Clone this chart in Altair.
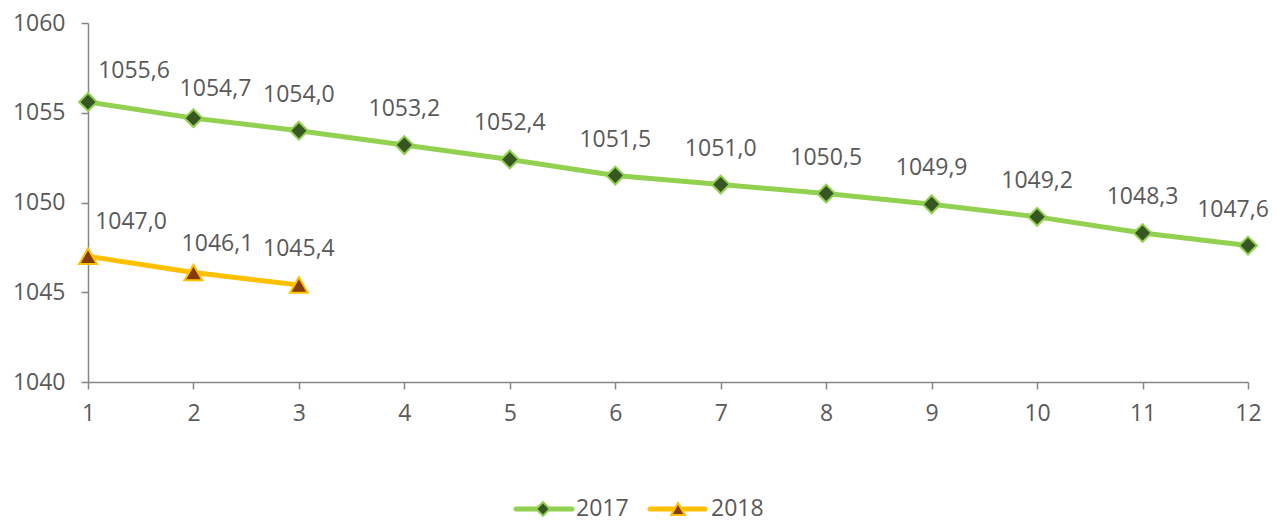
import altair as alt
import pandas as pd

# ---- data ----
months_2017 = list(range(1, 13))
values_2017 = [1055.6, 1054.7, 1054.0, 1053.2, 1052.4, 1051.5,
               1051.0, 1050.5, 1049.9, 1049.2, 1048.3, 1047.6]
months_2018 = [1, 2, 3]
values_2018 = [1047.0, 1046.1, 1045.4]
series = ["2017", "2018"]
x_ticks = list(range(1, 13))
y_ticks = [1040, 1045, 1050, 1055, 1060]

# ---- styles ----
line_colors = ["#92D050", "#FFC000"]
marker_fills = ["#375623", "#843C0C"]
shapes = ["diamond", "triangle-up"]
FONT = "Open Sans"
TEXT_COLOR = "#595959"
AXIS_COLOR = "#868686"
FS = 23

df = pd.concat([
    pd.DataFrame({"month": months_2017, "value": values_2017, "series": "2017"}),
    pd.DataFrame({"month": months_2018, "value": values_2018, "series": "2018"}),
], ignore_index=True)

x_enc = alt.X("month:Q",
              scale=alt.Scale(domain=[1, 12], nice=False, zero=False),
              axis=alt.Axis(values=x_ticks, title=None, format="d",
                            labelPadding=13, labelFlush=False))
y_enc = alt.Y("value:Q",
              scale=alt.Scale(domain=[1040, 1060], nice=False, zero=False),
              axis=alt.Axis(values=y_ticks, title=None, format="d",
                            labelPadding=16, labelFlush=False))

color_scale = alt.Scale(domain=series, range=line_colors)

base = alt.Chart(df).encode(x=x_enc, y=y_enc)

lines = base.mark_line(strokeWidth=5).encode(
    color=alt.Color("series:N", scale=color_scale, legend=None),
    detail="series:N",
)

points = base.mark_point(filled=True, size=320, strokeWidth=2, opacity=1).encode(
    shape=alt.Shape("series:N", scale=alt.Scale(domain=series, range=shapes), legend=None),
    fill=alt.Fill("series:N", scale=alt.Scale(domain=series, range=marker_fills), legend=None),
    stroke=alt.Stroke("series:N", scale=color_scale, legend=None),
)

# label placement tweaks (pixel offsets) for specific points
label_offsets = {
    ("2017", 1): (46, -31),
    ("2017", 2): (22, -29),
    ("2017", 12): (-15, -36),
    ("2018", 1): (43, -34),
    ("2018", 2): (24, -29),
}
default_offset = (0, -36)

label_base = base.transform_calculate(
    label="replace(format(datum.value, '.1f'), '.', ',')",
    key="datum.series + '_' + datum.month",
)

special_keys = [f"{s}_{m}" for (s, m) in label_offsets]
text_layers = [
    label_base.transform_filter(f"indexof({special_keys}, datum.key) < 0")
    .mark_text(font=FONT, fontSize=FS, color=TEXT_COLOR,
               dx=default_offset[0], dy=default_offset[1]).encode(text="label:N")
]
for (s, m), (dx, dy) in label_offsets.items():
    text_layers.append(
        label_base.transform_filter(f"datum.key == '{s}_{m}'")
        .mark_text(font=FONT, fontSize=FS, color=TEXT_COLOR, dx=dx, dy=dy)
        .encode(text="label:N")
    )

# ---- manual legend (line + marker + text) ----
one = alt.Chart(alt.Data(values=[{"a": 1}]))
legend_layers = []
legend_y = 486
legend_x = [(428, 484, 455, 488), (562, 617, 590, 623)]
for i, s in enumerate(series):
    x1, x2, xm, xt = legend_x[i]
    legend_layers.append(one.mark_rule(strokeWidth=5, color=line_colors[i], strokeCap="round").encode(
        x=alt.value(x1), x2=alt.value(x2), y=alt.value(legend_y)))
    legend_layers.append(one.mark_point(filled=True, size=190, strokeWidth=2, shape=shapes[i],
                                        fill=marker_fills[i], stroke=line_colors[i], opacity=1).encode(
        x=alt.value(xm), y=alt.value(legend_y)))
    legend_layers.append(one.mark_text(font=FONT, fontSize=FS, color=TEXT_COLOR, align="left",
                                       baseline="middle").encode(
        x=alt.value(xt), y=alt.value(legend_y), text=alt.value(s)))

chart = alt.layer(lines, points, *text_layers, *legend_layers).properties(
    width=1160, height=359,
    autosize=alt.AutoSizeParams(type="none"),
    padding={"left": 80, "top": 15, "right": 27, "bottom": 141},
).configure_view(stroke=None).configure_axis(
    grid=False,
    domainColor=AXIS_COLOR, domainWidth=1.5,
    tickColor=AXIS_COLOR, tickWidth=1.5, tickSize=7,
    labelColor=TEXT_COLOR, labelFont=FONT, labelFontSize=FS,
)

chart.save("out.html", embed_options={"renderer": "svg", "actions": False})
